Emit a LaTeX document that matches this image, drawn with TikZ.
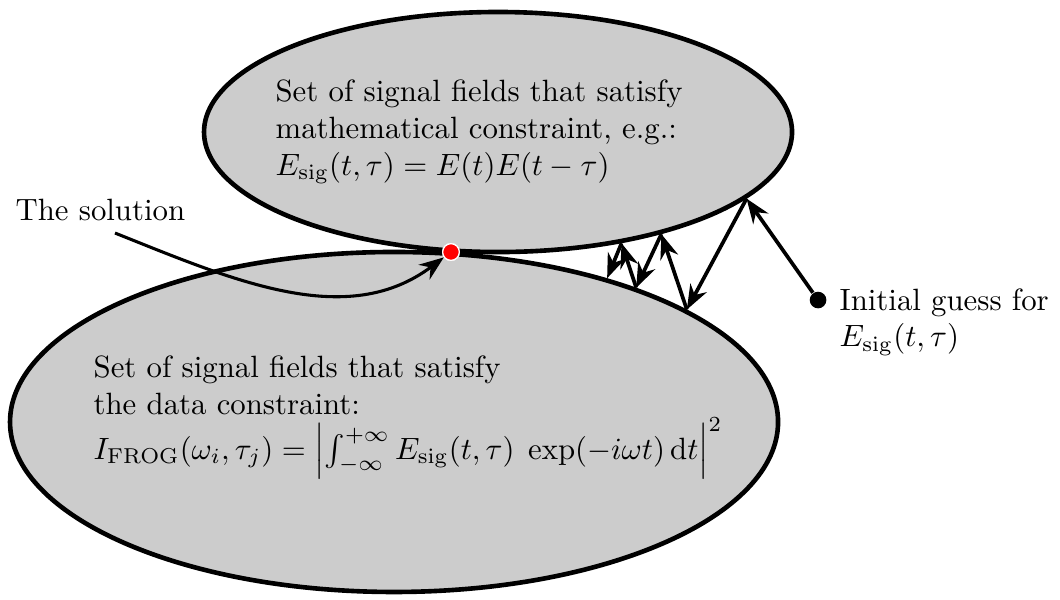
\documentclass[tikz,border=0pt]{standalone}
\usepackage{amsmath,amssymb}
\usepackage{xcolor}
\usepackage{tikz}
\usetikzlibrary{arrows.meta,positioning,shapes.geometric}

\begin{document}
\begin{tikzpicture}[region/.style={ellipse,draw,line width=1.5pt,fill=gray!40,inner sep=0pt},
    conn/.style={line width=1.2pt,-{Stealth[length=8pt,width=6pt]}},
    lbl/.style={align=left,inner sep=0pt}]
          \useasboundingbox (0,0) rectangle (12.1,-6.838);
          \node[region,minimum width=6.712cm,minimum height=2.740cm] (top) at (5.685,-1.507) {};
          \node[region,minimum width=8.767cm,minimum height=3.881cm] (bot) at (4.498,-4.817) {};
          \node[lbl,anchor=north west] (toptext) at (3.139,-0.902) {Set of signal fields that satisfy\\
            mathematical constraint, e.g.:\\
            $E_{\mathrm{sig}}(t,\tau)=E(t)E(t-\tau)$};
          \node[lbl,anchor=north west] (bottext) at (1.062,-4.05) {Set of signal fields that satisfy\\
            the data constraint:\\
            $I_{\mathrm{FROG}}(\omega_i,\tau_j)=\left|\int_{-\infty}^{+\infty}E_{\mathrm{sig}}(t,\tau)\;\exp(-i\omega t)\,\mathrm{d}t\right|^2$};
          \node[lbl,anchor=west] (sollabel) at (0.171,-2.397) {The solution};
          \node[circle,fill=red,draw=white,thin,minimum size=0.19cm,inner sep=0pt] (sol) at (5.148,-2.877) {};
          \node[circle,fill=black,minimum size=0.19cm,inner sep=0pt] (guess) at (9.338,-3.425) {};
          \node[lbl,anchor=west] (guesstext) at (9.578,-3.676) {Initial guess for\\$E_{\mathrm{sig}}(t,\tau)$};
          % iterations between the two sets
          \coordinate (t1) at (top.-15);
          \coordinate (t2) at (top.-32);
          \coordinate (t3) at (top.-42.5);
          \coordinate (b1) at (bot.21);
          \coordinate (b2) at (bot.29.6);
          \coordinate (b3) at (bot.34.9);
          \coordinate (start) at (1.313,-2.660);
          \draw[conn] (guess) -- (t1);
          \draw[conn] (t1) -- (b1);
          \draw[conn] (b1) -- (t2);
          \draw[conn] (t2) -- (b2);
          \draw[conn] (b2) -- (t3);
          \draw[conn] (t3) -- (b3);
          \draw[line width=1pt,-{Stealth[length=8pt,width=6pt]}] (start) .. controls (2.683,-3.208) and (3.961,-3.767) .. (sol);
          \node[circle,fill=red,draw=white,thin,minimum size=0.19cm,inner sep=0pt] at (sol) {};
        \end{tikzpicture}
\end{document}
